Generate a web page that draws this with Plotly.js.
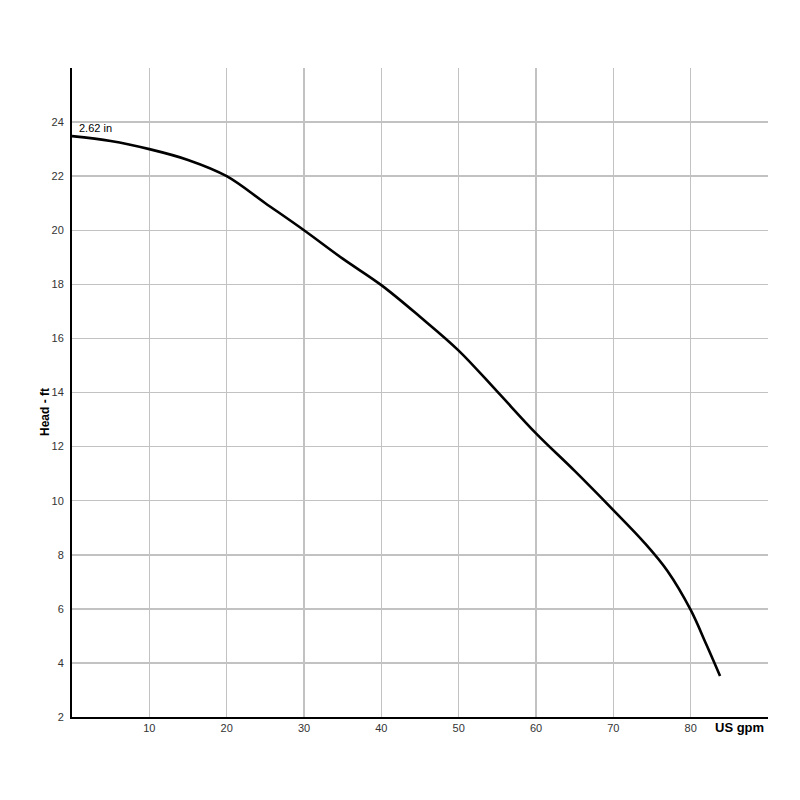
<!DOCTYPE html>
<html>
<head>
<meta charset="utf-8">
<script src="https://cdn.plot.ly/plotly-3.0.1.min.js"></script>
<style>html,body{margin:0;padding:0;background:#fff;}#chart{width:800px;height:800px;}</style>
</head>
<body>
<div id="chart"></div>
<script>
const flowGpm = [0, 5, 10, 15, 20, 25, 30, 35, 40, 45, 50, 55, 60, 65, 70, 74, 77, 80, 82, 83.8];
const headFt  = [23.48, 23.3, 23.0, 22.6, 22.0, 21.0, 20.0, 18.95, 17.97, 16.8, 15.55, 14.03, 12.49, 11.1, 9.65, 8.45, 7.4, 5.96, 4.7, 3.52];
const curveLabel = "2.62 in";
const xTicks = [10, 20, 30, 40, 50, 60, 70, 80];
const yTicks = [2, 4, 6, 8, 10, 12, 14, 16, 18, 20, 22, 24];
const xLabel = "US gpm";
const yLabel = "Head - ft";

const fontFam = "Liberation Sans, Arial, sans-serif";

const trace = {
  x: flowGpm, y: headFt, type: "scatter", mode: "lines",
  line: {color: "#000", width: 2.6, shape: "spline", smoothing: 1},
  hoverinfo: "skip", showlegend: false
};

const layout = {
  width: 800, height: 800,
  margin: {l: 72, r: 32, t: 68, b: 83},
  paper_bgcolor: "#fff", plot_bgcolor: "#fff",
  font: {family: fontFam, color: "#222", size: 11},
  xaxis: {
    range: [0, 90], tickvals: xTicks, ticktext: xTicks.map(String),
    showgrid: true, gridcolor: "#c2c2c2", gridwidth: 1.5,
    zeroline: false, showline: true, linecolor: "#000", linewidth: 2,
    ticks: "", tickfont: {size: 11, color: "#333"}, fixedrange: true
  },
  yaxis: {
    range: [2, 26], tickvals: yTicks, ticktext: yTicks.map(String),
    showgrid: true, gridcolor: "#c2c2c2", gridwidth: 1.5,
    zeroline: false, showline: true, linecolor: "#000", linewidth: 2,
    ticks: "", tickfont: {size: 11, color: "#333"}, ticklabelstandoff: 4, fixedrange: true
  },
  annotations: [
    {text: curveLabel, x: flowGpm[0], y: headFt[0], xref: "x", yref: "y",
     xanchor: "left", yanchor: "bottom", xshift: 5, yshift: 0, showarrow: false,
     font: {family: fontFam, size: 11, color: "#000"}},
    {text: "<b>" + xLabel + "</b>", x: 1, y: 0, xref: "paper", yref: "paper",
     xanchor: "right", yanchor: "top", xshift: -2, yshift: -1, showarrow: false,
     font: {family: fontFam, size: 13, color: "#000"}},
    {text: "<b>" + yLabel + "</b>", x: 0, y: 0.47, xref: "paper", yref: "paper",
     xanchor: "center", yanchor: "middle", xshift: -27, textangle: -90, showarrow: false,
     font: {family: fontFam, size: 12, color: "#000"}}
  ]
};

Plotly.newPlot("chart", [trace], layout, {staticPlot: true, displayModeBar: false});
</script>
</body>
</html>
